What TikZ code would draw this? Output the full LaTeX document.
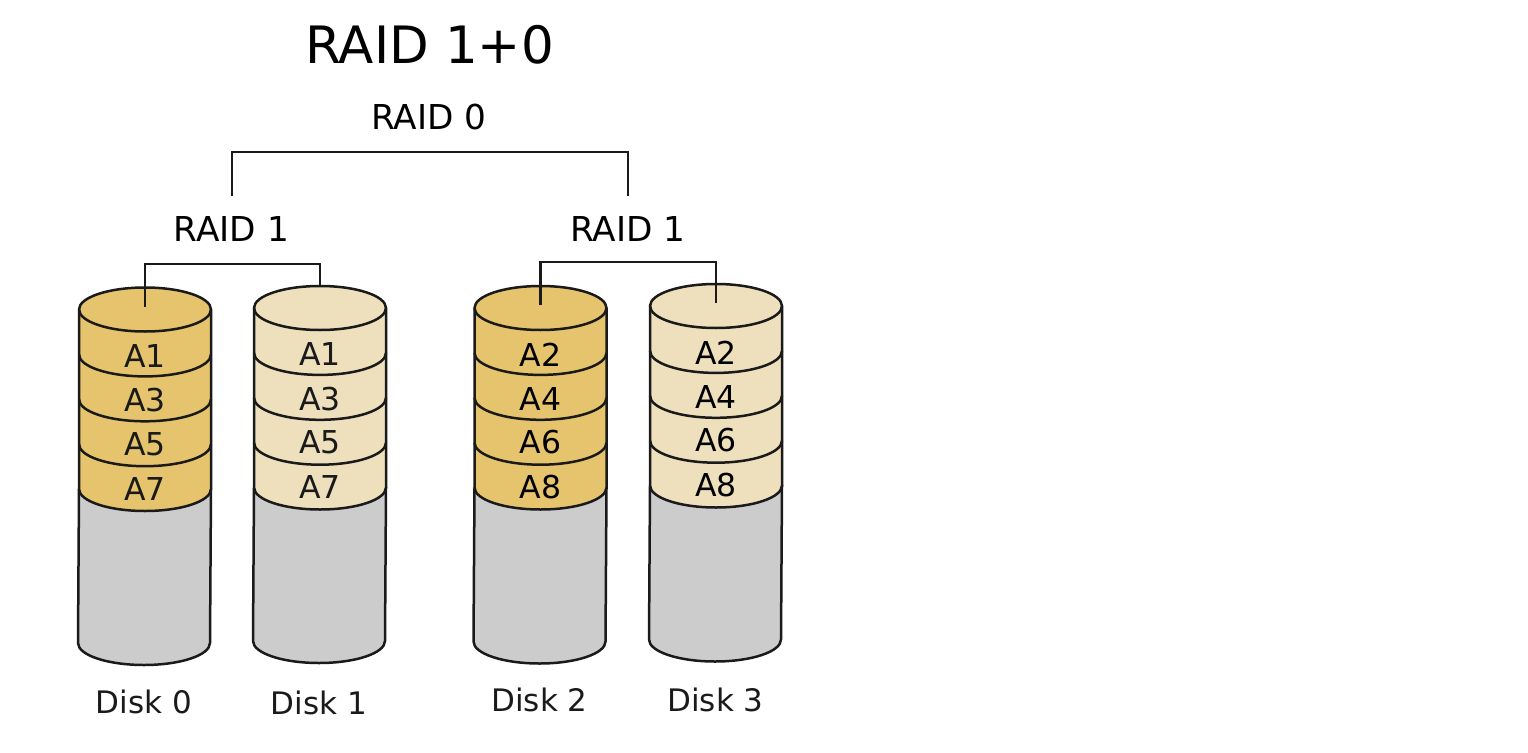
\documentclass[tikz,border=0pt]{standalone}
\usepackage{fontspec}
\setmainfont{DejaVu Sans}
\definecolor{goldband}{HTML}{E5C46D}
\definecolor{paleband}{HTML}{EEE0BD}
\definecolor{emptyband}{HTML}{CCCCCC}
\definecolor{ink}{HTML}{1A1A1A}
\tikzset{
  outline/.style={draw=ink,line width=2.5pt,line join=round},
  wire/.style={draw=ink,line width=2.2pt,line cap=butt,line join=miter},
  titletext/.style={inner sep=0pt,font=\fontsize{51.5}{52}\selectfont,text=black},
  grouptext/.style={inner sep=0pt,font=\fontsize{34.3}{35}\selectfont,text=black},
  disktext/.style={inner sep=0pt,font=\fontsize{31}{32}\selectfont,text=ink},
  bandtext/.style={inner sep=0pt,font=\fontsize{31.5}{32}\selectfont,text=#1},
}
% #1 name, #2 centre x, #3 y of top ellipse centre, #4 y of bottom ellipse centre,
% #5 band colour, #6..#9 band labels
\newcommand{\diskstack}[9]{%
  \def\cx{#2}\def\ty{#3}\def\by{#4}\def\bandcol{#5}%
  \pgfmathsetmacro{\bandend}{\ty+179.5}%
  % empty lower part of the platter stack
  \path[outline,fill=emptyband] (\cx-66,\bandend) -- (\cx-67,\by)
    arc[start angle=180,end angle=0,x radius=66,y radius=22]
    -- (\cx+66,\bandend) -- cycle;
  % filled part with its top face
  \path[outline,fill=\bandcol] (\cx-66,\ty) -- (\cx-66,\bandend)
    arc[start angle=180,end angle=0,x radius=66,y radius=22]
    -- (\cx+66,\ty)
    arc[start angle=0,end angle=-180,x radius=66,y radius=22] -- cycle;
  % stripe edges
  \foreach \k in {0,1,2,3}{
    \pgfmathsetmacro{\yy}{\ty+\k*44.9}
    \path[outline] (\cx-66,\yy) arc[start angle=180,end angle=0,x radius=66,y radius=22];
  }
  \coordinate (#1top) at (\cx,\ty-22);
  \coordinate (#1mid) at (\cx,\ty-3);
  \node[bandtext=\bandtextcol] (#1a) at (\cx,\ty+46.5) {#6};
  \node[bandtext=\bandtextcol] (#1b) at (\cx,\ty+91) {#7};
  \node[bandtext=\bandtextcol] (#1c) at (\cx,\ty+134.5) {#8};
  \node[bandtext=\bandtextcol] (#1d) at (\cx,\ty+179.5) {#9};
}
\begin{document}
\begin{tikzpicture}[x=1pt,y=-1pt]
  \useasboundingbox (0,0) rectangle (1528,752);
  \fill[white] (0,0) rectangle (1528,752);

  \def\bandtextcol{ink}
  \diskstack{dzero}{145}{309.5}{643}{goldband}{A1}{A3}{A5}{A7}
  \diskstack{done}{320}{308}{641}{paleband}{A1}{A3}{A5}{A7}
  \def\bandtextcol{black}
  \diskstack{dtwo}{540.5}{308}{641.5}{goldband}{A2}{A4}{A6}{A8}
  \diskstack{dthree}{716}{306}{639.5}{paleband}{A2}{A4}{A6}{A8}

  \node[disktext] (lzero) at (144,702) {Disk 0};
  \node[disktext] (lone) at (319,703) {Disk 1};
  \node[disktext] (ltwo) at (539.5,700) {Disk 2};
  \node[disktext] (lthree) at (715.5,700) {Disk 3};

  \node[titletext] (title) at (429.5,45) {RAID 1+0};
  \node[grouptext] (stripe) at (429,117) {RAID 0};
  \node[grouptext] (mirrorL) at (231.5,229) {RAID 1};
  \node[grouptext] (mirrorR) at (628,229) {RAID 1};

  % top-level bracket joining both mirrored pairs
  \coordinate (stripeL) at (232,196);
  \coordinate (stripeR) at (628,196);
  \coordinate (stripeY) at (0,152);
  \draw[wire] (stripeL) -- (stripeL |- stripeY) -- (stripeR |- stripeY) -- (stripeR);

  % brackets joining the disks of each mirrored pair
  \coordinate (leftY) at (0,264);
  \coordinate (rightY) at (0,262);
  \draw[wire] (dzeromid) -- (dzeromid |- leftY) -- (donetop |- leftY) -- (donetop);
  \draw[wire] (dtwomid) -- (dtwomid |- rightY) -- (dthreemid |- rightY) -- (dthreemid);
\end{tikzpicture}
\end{document}
